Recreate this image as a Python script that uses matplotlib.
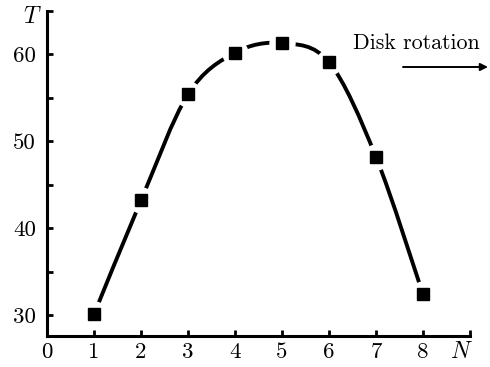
import numpy as np
import matplotlib.pyplot as plt
from matplotlib.path import Path
from matplotlib.patches import PathPatch

# data
N = [1, 2, 3, 4, 5, 6, 7, 8]
T = [30.1, 43.2, 55.4, 60.2, 61.3, 59.1, 48.2, 32.4]

xtick_pos = list(range(0, 10))
xtick_labels = ['0', '1', '2', '3', '4', '5', '6', '7', '8', '']
ytick_pos = [30, 35, 40, 45, 50, 55, 60, 65]
ytick_labels = ['30', '', '40', '', '50', '', '60', '']

plt.rcParams['font.family'] = 'cmr10'
plt.rcParams['axes.unicode_minus'] = False

fig = plt.figure(figsize=(4.9, 3.67), dpi=100)
ax = fig.add_axes([47 / 490, 31 / 367, 423 / 490, 325 / 367])

# smooth curve through the points (Catmull-Rom as cubic beziers)
pts = np.column_stack([N, T]).astype(float)
ext = np.vstack([pts[0], pts, pts[-1]])
verts = [tuple(pts[0])]
codes = [Path.MOVETO]
for i in range(1, len(ext) - 2):
    p0, p1, p2, p3 = ext[i - 1], ext[i], ext[i + 1], ext[i + 2]
    c1 = p1 + (p2 - p0) / 6
    c2 = p2 - (p3 - p1) / 6
    verts += [tuple(c1), tuple(c2), tuple(p2)]
    codes += [Path.CURVE4] * 3
ax.add_patch(PathPatch(Path(verts, codes), fill=False, lw=2.8,
                       edgecolor='black', capstyle='butt', zorder=2))

# white halo round the markers, then the squares
ax.plot(N, T, 'o', ms=19, mfc='white', mec='white', mew=0, zorder=5)
ax.plot(N, T, 's', ms=8.5, color='black', zorder=6)

ax.set_xlim(0, 9)
ax.set_ylim(27.6, 65)
ax.spines['top'].set_visible(False)
ax.spines['right'].set_visible(False)
ax.spines['left'].set_linewidth(2.2)
ax.spines['bottom'].set_linewidth(2.2)

ax.set_xticks(xtick_pos)
ax.set_xticklabels(xtick_labels)
ax.set_yticks(ytick_pos)
ax.set_yticklabels(ytick_labels)
ax.tick_params(axis='both', direction='in', length=4, width=2, labelsize=16.5)
ax.tick_params(axis='x', pad=5)
ax.tick_params(axis='y', pad=8)

fig.text(30 / 490, 1 - 17 / 367, 'T', family='cmmi10', fontsize=17,
         ha='center', va='center')
fig.text(460 / 490, 1 - 352 / 367, 'N', family='cmmi10', fontsize=17,
         ha='center', va='center')

fig.text(416 / 490, 1 - 43 / 367, 'Disk rotation', fontsize=15.8,
         ha='center', va='center')
ax.annotate('', xy=(488 / 490, 1 - 67 / 367), xytext=(403 / 490, 1 - 67 / 367),
            xycoords='figure fraction', textcoords='figure fraction',
            arrowprops=dict(arrowstyle='-|>', lw=1.4, color='black',
                            mutation_scale=11, shrinkA=0, shrinkB=0))

fig.savefig('out.png', dpi=100)
